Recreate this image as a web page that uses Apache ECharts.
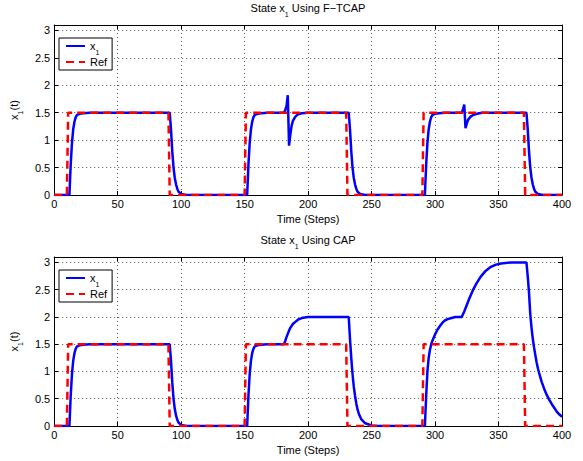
<!DOCTYPE html>
<html><head><meta charset="utf-8">
<script src="https://cdn.jsdelivr.net/npm/echarts@6/dist/echarts.min.js"></script>
<style>html,body{margin:0;padding:0;background:#fff}#c{width:583px;height:461px}</style>
</head><body><div id="c"></div>
<script>
// ---- data ----
const xTicks = [0, 50, 100, 150, 200, 250, 300, 350, 400];
const yTicks = [0, 0.5, 1, 1.5, 2, 2.5, 3];
const yMax = 3.1;
const titleNames = ['F\u2212TCAP', 'CAP'];
const seriesNames = ['x1', 'Ref'];

const refSignal = [[0,0],[10,0],[11,1.5],[90,1.5],[91,0],[150,0],[151,1.5],[230,1.5],[231,0],[290,0],[291,1.5],[370,1.5],[371,0],[400,0]];

const x1Ftcap = [[0,0],[12,0],[13,0.55],[14,0.95],[15,1.2],[16,1.34],[17,1.42],[18,1.46],[20,1.48],[23,1.49],[28,1.5],
  [91,1.5],[92,1.2],[93,0.8],[94,0.5],[95,0.31],[96,0.19],[97,0.11],[98,0.06],[100,0.02],[104,0],
  [152,0],[153,0.55],[154,0.95],[155,1.2],[156,1.34],[157,1.42],[158,1.46],[160,1.48],[163,1.49],[168,1.5],
  [181,1.5],[182,1.55],[183,1.62],[184,1.82],[185,0.9],[186,1.1],[187,1.26],[188,1.35],[190,1.43],[192,1.47],[195,1.49],[200,1.5],
  [232,1.5],[233,1.2],[234,0.8],[235,0.5],[236,0.31],[237,0.19],[238,0.11],[239,0.06],[241,0.02],[245,0],
  [292,0],[293,0.55],[294,0.95],[295,1.2],[296,1.34],[297,1.42],[298,1.46],[300,1.48],[303,1.49],[308,1.5],
  [321,1.5],[322,1.56],[323,1.65],[324,1.22],[325,1.3],[326,1.37],[328,1.43],[330,1.46],[333,1.48],[337,1.5],
  [372,1.5],[373,1.2],[374,0.8],[375,0.5],[376,0.31],[377,0.19],[378,0.11],[379,0.06],[381,0.02],[385,0],[400,0]];

const x1Cap = [[0,0],[12,0],[13,0.55],[14,0.95],[15,1.2],[16,1.34],[17,1.42],[18,1.46],[20,1.48],[23,1.49],[28,1.5],
  [91,1.5],[92,1.2],[93,0.8],[94,0.5],[95,0.31],[96,0.19],[97,0.11],[98,0.06],[100,0.02],[104,0],
  [152,0],[153,0.55],[154,0.95],[155,1.2],[156,1.34],[157,1.42],[158,1.46],[160,1.48],[163,1.49],[168,1.5],
  [181,1.5],[182,1.56],[183,1.63],[184,1.69],[185,1.75],[186,1.8],[188,1.87],[190,1.91],[192,1.95],[195,1.98],[200,2.0],
  [232,2.0],[233,1.6],[234,1.25],[235,0.95],[236,0.72],[237,0.55],[238,0.41],[239,0.3],[240,0.22],[242,0.12],[245,0.05],[250,0.01],[255,0],
  [292,0],[293,0.55],[294,1.0],[295,1.25],[296,1.4],[297,1.5],[298,1.57],[300,1.68],[302,1.77],[304,1.84],[306,1.9],[308,1.94],[310,1.96],[313,1.98],[316,2.0],
  [321,2.0],[322,2.05],[323,2.1],[324,2.16],[325,2.22],[327,2.34],[330,2.5],[333,2.63],[336,2.74],[340,2.85],[344,2.92],[348,2.96],[352,2.98],[360,3.0],
  [372,3.0],[373,2.75],[374,2.45],[375,2.05],[376,1.8],[377,1.6],[378,1.44],[379,1.3],[380,1.17],[381,1.06],[382,0.97],[384,0.81],[386,0.68],[388,0.57],[390,0.48],[392,0.4],[394,0.33],[396,0.26],[398,0.21],[400,0.17]];

// ---- styling / layout ----
const FONT = '"Liberation Sans", Arial, Helvetica, sans-serif';
const grids = [
  {left: 54, top: 25, width: 508, height: 170},
  {left: 54, top: 257, width: 508, height: 169}
];
const rich = {
  a: {fontSize: 11, fontFamily: FONT, color: '#000', lineHeight: 12, verticalAlign: 'top'},
  s: {fontSize: 7, fontFamily: FONT, color: '#000', lineHeight: 7, verticalAlign: 'top', padding: [9, 0, 0, 0]}
};
const tickStyle = {show: true, inside: true, length: 4, lineStyle: {color: '#000', width: 1}};
const lineStyleAxis = {show: true, onZero: false, lineStyle: {color: '#000', width: 1}};
const gridLine = {show: true, lineStyle: {color: '#555', width: 1, type: [1, 3]}};

const xAxes = [], yAxes = [];
grids.forEach((g, i) => {
  xAxes.push({
    type: 'value', gridIndex: i, position: 'bottom', min: xTicks[0], max: xTicks[xTicks.length - 1],
    interval: xTicks[1] - xTicks[0],
    axisLine: lineStyleAxis, axisTick: tickStyle, splitLine: gridLine,
    axisLabel: {color: '#000', fontSize: 11, fontFamily: FONT, margin: 3, hideOverlap: false},
    name: 'Time (Steps)', nameLocation: 'middle', nameGap: 18,
    nameTextStyle: {color: '#000', fontSize: 11, fontFamily: FONT}
  });
  xAxes.push({
    type: 'value', gridIndex: i, position: 'top', min: xTicks[0], max: xTicks[xTicks.length - 1],
    interval: xTicks[1] - xTicks[0],
    axisLine: lineStyleAxis, axisTick: tickStyle, splitLine: {show: false}, axisLabel: {show: false}
  });
  yAxes.push({
    type: 'value', gridIndex: i, position: 'left', min: yTicks[0], max: yMax,
    interval: yTicks[1] - yTicks[0],
    axisLine: lineStyleAxis, axisTick: tickStyle, splitLine: gridLine,
    axisLabel: {color: '#000', fontSize: 11, fontFamily: FONT, margin: 4,
      formatter: v => (yTicks.some(t => Math.abs(t - v) < 1e-9) ? String(v) : '')},
    name: '{a|x}{s|1}{a|(t)}', nameLocation: 'middle', nameGap: 28, nameRotate: 90,
    nameTextStyle: {rich: rich}
  });
  yAxes.push({
    type: 'value', gridIndex: i, position: 'right', min: yTicks[0], max: yMax,
    interval: yTicks[1] - yTicks[0],
    axisLine: lineStyleAxis, axisTick: tickStyle, splitLine: {show: false}, axisLabel: {show: false}
  });
});

const x1Data = [x1Ftcap, x1Cap];
const series = [];
grids.forEach((g, i) => {
  series.push({
    name: seriesNames[0], type: 'line', xAxisIndex: i * 2, yAxisIndex: i * 2, data: x1Data[i],
    symbol: 'none', lineStyle: {color: '#0000ff', width: 2.5}, itemStyle: {color: '#0000ff'}, z: 3
  });
  series.push({
    name: seriesNames[1], type: 'line', xAxisIndex: i * 2, yAxisIndex: i * 2, data: refSignal,
    symbol: 'none', lineStyle: {color: '#ff0000', width: 2.5, type: [8, 5]}, itemStyle: {color: '#ff0000'}, z: 4
  });
});

const legends = grids.map((g, i) => ({
  data: seriesNames, left: 59, top: g.top + 13, orient: 'vertical',
  backgroundColor: '#fff', borderColor: '#000', borderWidth: 1, borderRadius: 0,
  padding: [2, 5, 3, 6], itemGap: 0, itemWidth: 19, itemHeight: 12, selectedMode: false,
  itemStyle: {opacity: 0},
  textStyle: {rich: rich},
  formatter: n => (n === 'x1' ? '{a|x}{s|1}' : '{a|Ref}')
}));

const graphics = grids.map((g, i) => ({
  type: 'text', x: g.left + g.width / 2, y: g.top - 23,
  style: {text: '{a|State x}{s|1}{a| Using ' + titleNames[i] + '}', rich: rich, align: 'center', verticalAlign: 'top'}
}));

const chart = echarts.init(document.getElementById('c'), null, {renderer: 'svg'});
chart.setOption({
  animation: false,
  backgroundColor: '#fff',
  grid: grids.map(g => Object.assign({containLabel: false, show: false}, g)),
  xAxis: xAxes, yAxis: yAxes, series: series, legend: legends, graphic: graphics
});
</script>
</body></html>
